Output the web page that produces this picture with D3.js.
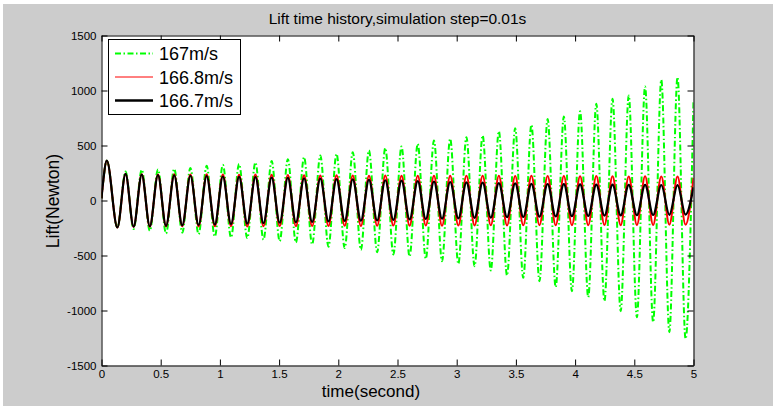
<!DOCTYPE html>
<html>
<head>
<meta charset="utf-8">
<script src="https://cdn.jsdelivr.net/npm/d3@7.9.0/dist/d3.min.js"></script>
<style>
  html, body { margin: 0; padding: 0; background: #ffffff; }
  svg { display: block; }
  text { font-family: Arial, "Liberation Sans", sans-serif; fill: #000; }
</style>
</head>
<body>
<svg id="chart" width="773" height="406"></svg>
<script>
// extremum times (s), shared by the three runs
const times = [0, 0.012, 0.045,
  0.134, 0.203, 0.271, 0.340, 0.408, 0.477, 0.545, 0.614,
  0.682, 0.751, 0.820, 0.888, 0.957, 1.025, 1.094, 1.162,
  1.231, 1.300, 1.368, 1.437, 1.505, 1.574, 1.642, 1.711,
  1.779, 1.848, 1.917, 1.985, 2.054, 2.122, 2.191, 2.259,
  2.328, 2.397, 2.465, 2.534, 2.602, 2.671, 2.739, 2.808,
  2.876, 2.945, 3.014, 3.082, 3.151, 3.219, 3.288, 3.356,
  3.425, 3.494, 3.562, 3.631, 3.699, 3.768, 3.836, 3.905,
  3.973, 4.042, 4.111, 4.179, 4.248, 4.316, 4.385, 4.453,
  4.522, 4.591, 4.659, 4.728, 4.796, 4.865, 4.933, 5.0];

// lift (N) at those times
const lift167 = [20, 150, 362,
  -245, 264, -260, 280, -276, 282, -300, 288,
  -292, 296, -306, 315, -328, 324, -336, 332,
  -342, 346, -357, 360, -370, 376, -382, 394,
  -400, 409, -420, 424, -432, 439, -448, 455,
  -470, 476, -491, 491, -509, 515, -530, 545,
  -552, 561, -576, 576, -597, 591, -636, 630,
  -682, 657, -703, 688, -733, 742, -788, 764,
  -824, 812, -879, 879, -915, 924, -1006, 955,
  -1061, 1036, -1106, 1097, -1197, 1121, -1258, 915];

const lift1668 = [20, 150, 362,
  -245, 240, -240, 238, -238, 236, -236, 238,
  -234, 236, -236, 238, -235, 236, -234, 235,
  -236, 236, -234, 234, -232, 232, -234, 230,
  -232, 228, -232, 230, -230, 228, -232, 226,
  -230, 228, -228, 226, -230, 226, -228, 224,
  -230, 226, -228, 224, -228, 226, -226, 224,
  -228, 222, -226, 224, -224, 222, -226, 222,
  -224, 220, -224, 222, -222, 220, -224, 218,
  -222, 220, -222, 218, -220, 218, -220, 205];

const lift1667 = [20, 150, 362,
  -245, 242, -238, 236, -234, 232, -230, 228,
  -226, 225, -222, 222, -218, 218, -214, 215,
  -210, 212, -206, 208, -202, 205, -198, 202,
  -194, 198, -190, 195, -186, 192, -183, 188,
  -180, 184, -176, 180, -172, 176, -168, 172,
  -165, 168, -162, 165, -158, 162, -155, 158,
  -152, 155, -150, 152, -147, 150, -145, 148,
  -142, 147, -140, 145, -138, 144, -136, 142,
  -134, 142, -132, 141, -130, 140, -128, 120];

const xTicks = [0, 0.5, 1, 1.5, 2, 2.5, 3, 3.5, 4, 4.5, 5];
const xTickLabels = ['0', '0.5', '1', '1.5', '2', '2.5', '3', '3.5', '4', '4.5', '5'];
const yTicks = [-1500, -1000, -500, 0, 500, 1000, 1500];
const yTickLabels = ['-1500', '-1000', '-500', '0', '500', '1000', '1500'];

const seriesNames = ['167m/s', '166.8m/s', '166.7m/s'];
const seriesValues = [lift167, lift1668, lift1667];
const seriesColors = ['#00ff00', '#ff0000', '#000000'];
const seriesWidths = [2, 2, 2.2];
const seriesDash = ['6,2.5,1.5,2.5', null, null];

const svg = d3.select('#chart');

// grey figure background
svg.append('rect')
  .attr('x', 3).attr('y', 4)
  .attr('width', 770).attr('height', 402)
  .attr('fill', '#cccccc');

const plotLeft = 101.5, plotRight = 693.5, plotTop = 35.5, plotBottom = 365.5;

const x = d3.scaleLinear().domain([0, 5]).range([plotLeft, plotRight]);
const y = d3.scaleLinear().domain([-1500, 1500]).range([plotBottom, plotTop]);

// plot area
svg.append('rect')
  .attr('x', plotLeft).attr('y', plotTop)
  .attr('width', plotRight - plotLeft).attr('height', plotBottom - plotTop)
  .attr('fill', '#ffffff');

svg.append('defs').append('clipPath').attr('id', 'clip')
  .append('rect')
  .attr('x', plotLeft).attr('y', plotTop)
  .attr('width', plotRight - plotLeft).attr('height', plotBottom - plotTop);

const line = d3.line()
  .x((d, i) => x(times[i]))
  .y(d => y(d))
  .curve(d3.curveMonotoneX);

const lines = svg.append('g').attr('clip-path', 'url(#clip)');
seriesValues.forEach((vals, i) => {
  lines.append('path')
    .attr('d', line(vals))
    .attr('fill', 'none')
    .attr('stroke', seriesColors[i])
    .attr('stroke-width', seriesWidths[i])
    .attr('stroke-dasharray', seriesDash[i])
    .attr('stroke-linejoin', 'round');
});

// axes (ticks pointing inward, box on)
function styleAxis(g) {
  g.selectAll('path').attr('stroke', '#000').attr('stroke-width', 1);
  g.selectAll('line').attr('stroke', '#000').attr('stroke-width', 1);
  g.selectAll('text')
    .style('font-family', 'Arial, "Liberation Sans", sans-serif')
    .style('font-size', '11.5px')
    .attr('fill', '#000');
}

svg.append('g')
  .attr('transform', `translate(0,${plotBottom})`)
  .call(d3.axisBottom(x).tickValues(xTicks)
    .tickFormat((d, i) => xTickLabels[i])
    .tickSizeInner(-6).tickSizeOuter(0).tickPadding(4))
  .call(styleAxis);

svg.append('g')
  .attr('transform', `translate(0,${plotTop})`)
  .call(d3.axisTop(x).tickValues(xTicks).tickFormat('')
    .tickSizeInner(-6).tickSizeOuter(0))
  .call(styleAxis);

svg.append('g')
  .attr('transform', `translate(${plotLeft},0)`)
  .call(d3.axisLeft(y).tickValues(yTicks)
    .tickFormat((d, i) => yTickLabels[i])
    .tickSizeInner(-6).tickSizeOuter(0).tickPadding(5))
  .call(styleAxis);

svg.append('g')
  .attr('transform', `translate(${plotRight},0)`)
  .call(d3.axisRight(y).tickValues(yTicks).tickFormat('')
    .tickSizeInner(-6).tickSizeOuter(0))
  .call(styleAxis);

// title and axis labels
svg.append('text')
  .attr('x', (plotLeft + plotRight) / 2).attr('y', 24)
  .attr('text-anchor', 'middle')
  .style('font-size', '15.5px')
  .text('Lift time history,simulation step=0.01s');

svg.append('text')
  .attr('x', 371).attr('y', 396.5)
  .attr('text-anchor', 'middle')
  .style('font-size', '17px')
  .text('time(second)');

svg.append('text')
  .attr('transform', 'translate(59,201) rotate(-90)')
  .attr('text-anchor', 'middle')
  .style('font-size', '17.5px')
  .text('Lift(Newton)');

// legend
const legend = svg.append('g');
legend.append('rect')
  .attr('x', 108.5).attr('y', 39.5)
  .attr('width', 132).attr('height', 75)
  .attr('fill', '#ffffff')
  .attr('stroke', '#000').attr('stroke-width', 1);

seriesNames.forEach((name, i) => {
  const cy = 53.5 + i * 23.5;
  legend.append('line')
    .attr('x1', 115).attr('x2', 153)
    .attr('y1', cy).attr('y2', cy)
    .attr('stroke', seriesColors[i])
    .attr('stroke-width', i === 1 ? 1 : seriesWidths[i] + (i === 2 ? 0.3 : 0))
    .attr('stroke-dasharray', seriesDash[i]);
  legend.append('text')
    .attr('x', 159).attr('y', cy + 6.5)
    .style('font-size', '18px')
    .text(name);
});
</script>
</body>
</html>
